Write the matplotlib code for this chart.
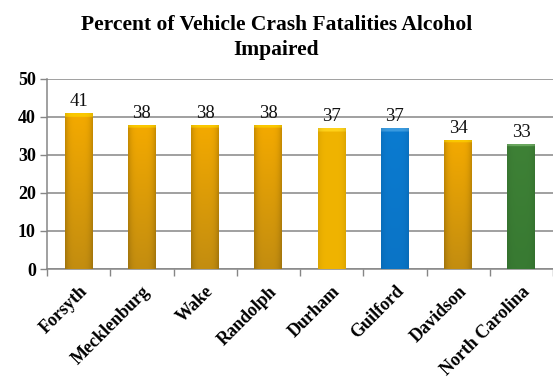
import numpy as np
import matplotlib.pyplot as plt
from matplotlib.colors import to_rgb

plt.rcParams['font.family'] = ['Liberation Serif', 'DejaVu Serif']

# 数据
counties = ['Forsyth', 'Mecklenburg', 'Wake', 'Randolph', 'Durham',
            'Guilford', 'Davidson', 'North Carolina']
percents = [41, 38, 38, 38, 37, 37, 34, 33]
# 每根柱子的样式: gold 为渐变金色, 其余为纯色
styles = ['gold', 'gold', 'gold', 'gold', 'flat', 'blue', 'gold', 'green']

fill = {
    'gold': ('#c38d10', '#f4aa00', '#fbc800'),   # 底, 顶, 顶盖
    'flat': ('#f0b400', '#f0b400', '#ffd21a'),
    'blue': ('#0a74c6', '#0b7bd0', '#3a9be0'),
    'green': ('#387a32', '#3e8136', '#6aa85f'),
}

fig = plt.figure(figsize=(5.53, 3.77), dpi=100)
ax = fig.add_axes([47 / 553, 108 / 377, 506 / 553, 190 / 377])

x = np.arange(len(counties))
bars = ax.bar(x, percents, width=0.44, color='none', edgecolor='none', zorder=3)


def bar_image(kind, n=120, m=40):
    bot, top, cap = (np.array(to_rgb(c)) for c in fill[kind])
    t = np.linspace(1, 0, n)[:, None, None]          # 1 = 顶部
    img = bot + (top - bot) * t
    img = np.repeat(img, m, axis=1)
    # 两侧稍暗, 做出圆柱感
    u = np.linspace(-1, 1, m)[None, :, None]
    shade = 0.18 if kind == 'gold' else 0.08
    img = img * (1 - shade * u ** 4)
    # 顶部的亮边
    img[:3] = cap * (1 - 0.1 * u[0] ** 4)
    return np.clip(img, 0, 1)


for b, kind in zip(bars, styles):
    x0, w, h = b.get_x(), b.get_width(), b.get_height()
    im = ax.imshow(bar_image(kind), extent=(x0, x0 + w, 0, h),
                   aspect='auto', zorder=3, interpolation='bilinear')
    im.set_clip_path(b)

for xi, v in zip(x, percents):
    ax.text(xi, v + 0.8, str(v), ha='center', va='bottom', fontsize=13.5,
            color='#111111', zorder=4)

ax.set_xlim(-0.5, len(counties) - 0.5)
ax.set_ylim(0, 50)
ax.set_yticks(range(0, 51, 10))
ax.set_yticklabels([str(v) for v in range(0, 51, 10)], fontsize=13,
                   fontweight='bold')
ax.yaxis.grid(True, color='#868686', linewidth=1.1, zorder=0)
ax.set_axisbelow(True)

# 分类刻度画在柱子之间, 标签放在柱子中心
ax.set_xticks(np.arange(-0.5, len(counties), 1.0))
ax.set_xticklabels([])
ax.set_xticks(x, minor=True)
ax.set_xticklabels(counties, minor=True, rotation=45, ha='right',
                   va='top', rotation_mode='anchor', fontsize=13,
                   fontweight='bold')
ax.tick_params(axis='x', which='major', length=5, color='#868686', width=1)
ax.tick_params(axis='x', which='minor', length=0, pad=10)
ax.tick_params(axis='y', length=5, color='#868686', width=1, pad=3)

for side in ['top', 'right']:
    ax.spines[side].set_visible(False)
for side in ['left', 'bottom']:
    ax.spines[side].set_color('#868686')
    ax.spines[side].set_linewidth(1.1)

fig.text(0.5, 0.96, 'Percent of Vehicle Crash Fatalities Alcohol\nImpaired',
         ha='center', va='top', fontsize=15.5, fontweight='bold',
         linespacing=1.3)

fig.savefig('out.png', dpi=100)
